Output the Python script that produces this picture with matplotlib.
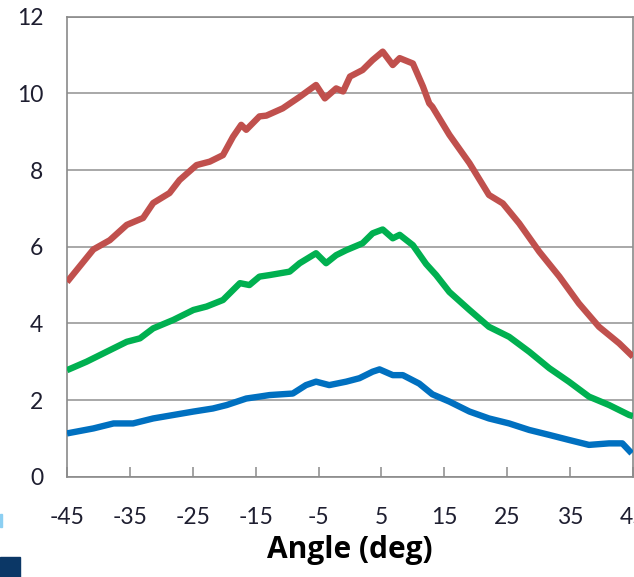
import matplotlib
matplotlib.use("Agg")
import matplotlib.pyplot as plt
from matplotlib.patches import Rectangle

# ---- data ----
red_x = [-45.0, -40.8, -38.2, -35.5, -32.9, -31.3, -28.7, -27.1, -24.4, -22.3, -20.2,
         -18.6, -17.3, -16.5, -14.4, -13.3, -10.7, -8.0, -5.4, -4.0, -2.2, -1.1, 0.0,
         2.0, 3.6, 5.2, 6.8, 7.9, 10.0, 11.6, 12.6, 13.1, 15.8, 19.0, 22.1, 24.3, 26.9,
         30.1, 33.3, 36.4, 39.6, 42.8, 45.0]
red_y = [5.08, 5.93, 6.17, 6.57, 6.75, 7.14, 7.40, 7.74, 8.13, 8.22, 8.39,
         8.87, 9.18, 9.05, 9.40, 9.42, 9.61, 9.91, 10.22, 9.87, 10.13, 10.05, 10.44,
         10.61, 10.87, 11.09, 10.74, 10.92, 10.78, 10.18, 9.74, 9.65, 8.92, 8.18, 7.35, 7.13, 6.61,
         5.87, 5.22, 4.52, 3.91, 3.48, 3.13]

green_x = [-45.0, -41.9, -38.7, -35.5, -33.4, -31.3, -28.1, -24.9, -22.8, -20.2, -17.5,
           -16.0, -14.4, -12.8, -9.6, -8.0, -5.4, -3.8, -2.2, -0.6, 2.0, 3.6, 5.2, 6.8,
           7.9, 10.0, 12.1, 13.7, 15.8, 19.0, 22.1, 25.3, 28.5, 31.7, 34.8, 38.0, 41.2,
           44.4, 45.0]
green_y = [2.78, 3.00, 3.26, 3.52, 3.61, 3.87, 4.09, 4.35, 4.44, 4.61, 5.05,
           5.00, 5.22, 5.26, 5.35, 5.57, 5.83, 5.57, 5.78, 5.91, 6.09, 6.35, 6.45, 6.22,
           6.31, 6.04, 5.55, 5.26, 4.82, 4.35, 3.91, 3.65, 3.26, 2.83, 2.48, 2.09, 1.87,
           1.61, 1.58]

blue_x = [-45.0, -40.8, -37.6, -34.5, -31.3, -28.1, -24.9, -21.8, -19.6, -16.5, -14.4,
          -12.8, -9.1, -7.0, -5.4, -3.3, -0.6, 1.5, 3.6, 4.7, 6.8, 8.4, 11.0, 13.1,
          15.8, 19.0, 22.1, 25.3, 28.5, 31.7, 34.8, 38.0, 41.2, 43.3, 44.8]
blue_y = [1.13, 1.26, 1.39, 1.39, 1.52, 1.61, 1.70, 1.78, 1.87, 2.04, 2.09,
          2.13, 2.17, 2.39, 2.48, 2.39, 2.48, 2.57, 2.74, 2.80, 2.65, 2.65, 2.43, 2.15,
          1.96, 1.70, 1.52, 1.39, 1.22, 1.09, 0.96, 0.83, 0.87, 0.87, 0.61]

x_ticks = [-45, -35, -25, -15, -5, 5, 15, 25, 35, 45]
x_tick_labels = ["-45", "-35", "-25", "-15", "-5", "5", "15", "25", "35", "45"]
y_ticks = [0, 2, 4, 6, 8, 10, 12]
x_label = "Angle (deg)"

plt.rcParams['font.family'] = ['Lato', 'DejaVu Sans']

fig = plt.figure(figsize=(6.34, 5.77), dpi=100)
ax = fig.add_axes([0.1057, 0.1738, 0.8927, 0.7972])

ax.plot(red_x, red_y, color='#C0504D', lw=4.6, solid_joinstyle='round', solid_capstyle='butt', zorder=3)
ax.plot(green_x, green_y, color='#00B050', lw=4.6, solid_joinstyle='round', solid_capstyle='butt', zorder=3)
ax.plot(blue_x, blue_y, color='#0070C0', lw=4.6, solid_joinstyle='round', solid_capstyle='butt', zorder=3)

ax.set_xlim(-45, 45)
ax.set_ylim(0, 12)
ax.set_xticks(x_ticks)
ax.set_xticklabels(x_tick_labels)
ax.set_yticks(y_ticks)

ax.grid(axis='y', color='#9A9A9A', lw=1.2)
ax.set_axisbelow(True)
for s in ax.spines.values():
    s.set_color('#8A8A8A')
    s.set_linewidth(1.2)

ax.tick_params(axis='x', direction='in', length=7, width=1.1, color='#8A8A8A',
               pad=22, labelsize=16.5, labelcolor='#1E1E30')
ax.tick_params(axis='y', length=0, pad=17, labelsize=16.5, labelcolor='#1E1E30')

xl = ax.set_xlabel(x_label, fontsize=21.5, fontweight='bold', color='black',
                   family=['Open Sans', 'DejaVu Sans'])
xl.set_verticalalignment('baseline')
ax.xaxis.set_label_coords(0.5005, -0.1774)

# small decorations at bottom-left corner
fig.patches.append(Rectangle((0, 0), 20 / 634, 20 / 577, transform=fig.transFigure,
                             color='#0B3766', zorder=5))
fig.patches.append(Rectangle((0, 50 / 577), 2 / 634, 13 / 577, transform=fig.transFigure,
                             color='#8CCFF2', zorder=5))

fig.savefig('out.png', dpi=100)
